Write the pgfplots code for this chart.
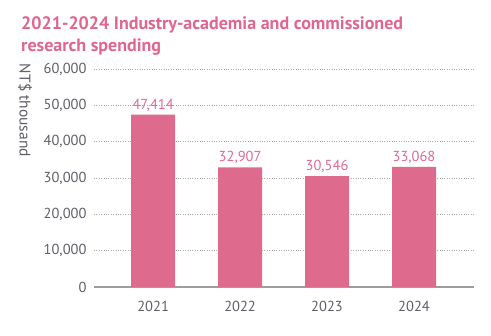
\documentclass[border=0pt]{standalone}
\usepackage{pgfplots}
\pgfplotsset{compat=1.18}
\usepackage{fontspec}
\setmainfont{PT Sans}
\definecolor{barpink}{HTML}{DE6B8E}
\definecolor{titlepink}{HTML}{E0658F}
\definecolor{ticktext}{HTML}{5E5E66}
\definecolor{gridgray}{HTML}{AAAAAA}
\definecolor{axisgray}{HTML}{9E9E9E}
\begin{document}
\begin{tikzpicture}[x=1pt,y=1pt]
\path[use as bounding box] (0,0) rectangle (491,336);
\node[anchor=base west,font=\bfseries\fontsize{18}{20}\selectfont,text=titlepink,inner sep=0pt] at (21,306) {2021-2024 Industry-academia and commissioned};
\node[anchor=base west,font=\bfseries\fontsize{18}{20}\selectfont,text=titlepink,inner sep=0pt] at (21,284) {research spending};
\begin{axis}[
  at={(94pt,49pt)}, anchor=south west,
  scale only axis, width=380pt, height=218pt,
  ymin=0, ymax=60000,
  xmin=-0.68, xmax=3.69,
  axis x line*=bottom, axis y line*=left,
  x axis line style={axisgray, line width=1.5pt, -},
  y axis line style={draw=none},
  xtick=data, xticklabels={2021,2022,2023,2024},
  major tick style={draw=none},
  ytick={0,10000,20000,30000,40000,50000,60000},
  scaled y ticks=false,
  ymajorgrids, grid style={gridgray, dotted, line width=0.8pt},
  /pgf/number format/fixed, /pgf/number format/1000 sep={,},
  /pgf/number format/assume math mode=true,
  tick label style={text=ticktext, font=\fontsize{14.5}{16}\selectfont},
  y tick label style={xshift=-4pt},
  x tick label style={yshift=-6pt},
  ylabel={NT\$ thousand},
  every axis y label/.style={at={(0,1)}, anchor=center, xshift=-69pt, yshift=-41.5pt, rotate=-90, text=ticktext, font=\fontsize{15.5}{16}\selectfont},
  ybar, bar width=44pt,
  nodes near coords,
  nodes near coords style={text=barpink, font=\fontsize{14.5}{16}\selectfont},
  clip=false,
]
\addplot[fill=barpink, draw=none] coordinates {(0,47414) (1,32907) (2,30546) (3,33068)};
\end{axis}
\end{tikzpicture}
\end{document}
